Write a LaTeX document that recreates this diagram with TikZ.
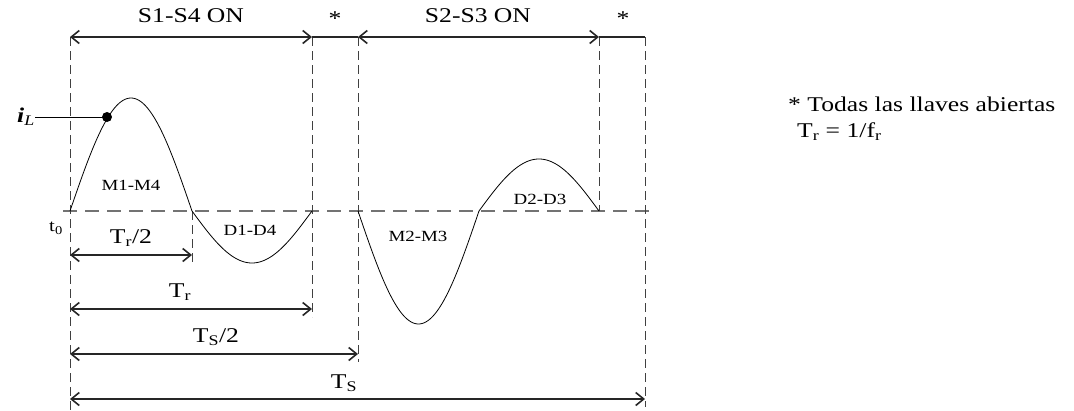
\documentclass[tikz,border=0pt]{standalone}
\usepackage{fontspec}
\setmainfont[FakeStretch=1.22]{Liberation Serif}
\usetikzlibrary{arrows.meta}
\begin{document}
\begin{tikzpicture}[x=1pt,y=-1pt,
  dimarrow/.style={line width=1.3pt,draw=black!85,
    {Straight Barb[length=8pt,width=13pt,line width=1.6pt]}-{Straight Barb[length=8pt,width=13pt,line width=1.6pt]}},
  plainline/.style={line width=1.3pt,draw=black!85},
  vdash/.style={line width=0.9pt,draw=black!75,dash pattern=on 9pt off 5pt},
  hdash/.style={line width=1.6pt,draw=black!55,dash pattern=on 14pt off 8pt},
  wave/.style={line width=0.8pt,draw=black},
  big/.style={font=\fontsize{21}{23}\selectfont,inner sep=0pt},
  small/.style={font=\fontsize{15.5}{17}\selectfont,inner sep=0pt}]
\useasboundingbox (0,0) rectangle (1074,410);
% top coordinates
\coordinate (a0) at (70,37);
\coordinate (a1) at (312,37);
\coordinate (a2) at (358,37);
\coordinate (a3) at (599,37);
\coordinate (a4) at (645,37);
% bottom ends of vertical dashed lines
\coordinate (b0) at (70,410);
\coordinate (b1) at (312,317);
\coordinate (b2) at (358,362);
\coordinate (b3) at (599,211);
\coordinate (b4) at (645,407);
\coordinate (h0) at (192,211);
\coordinate (h1) at (192,262);
% baseline
\coordinate (l0) at (63,211);
\coordinate (l1) at (652,211);
\draw[hdash] (l0) -- (l1);
% vertical dashed
\draw[vdash] (a0) -- (b0);
\draw[vdash] (a1) -- (b1);
\draw[vdash] (a2) -- (b2);
\draw[vdash] (a3) -- (b3);
\draw[vdash] (a4) -- (b4);
\draw[vdash] (h0) -- (h1);
% top dimension arrows
\draw[dimarrow] (a0) -- (a1);
\draw[plainline] (a1) -- (a2);
\draw[dimarrow] (a2) -- (a3);
\draw[plainline] (a3) -- (a4);
\node[big] (s14) at (191,16) {S1-S4 ON};
\node[big] (st1) at (335,19) {*};
\node[big] (s23) at (478,16) {S2-S3 ON};
\node[big] (st2) at (623,19) {*};
% bottom dimension arrows
\coordinate (d1s) at (70,255); \coordinate (d1e) at (192,255);
\coordinate (d2s) at (70,309); \coordinate (d2e) at (312,309);
\coordinate (d3s) at (70,354); \coordinate (d3e) at (358,354);
\coordinate (d4s) at (70,399); \coordinate (d4e) at (645,399);
\draw[dimarrow] (d1s) -- (d1e);
\draw[dimarrow] (d2s) -- (d2e);
\draw[dimarrow] (d3s) -- (d3e);
\draw[dimarrow] (d4s) -- (d4e);
\node[big] (tr2) at (131,238) {T\textsubscript{r}/2};
\node[big] (tr) at (180,292) {T\textsubscript{r}};
\node[big] (ts2) at (216,337) {T\textsubscript{S}/2};
\node[big] (ts) at (344,383) {T\textsubscript{S}};
% waveform
\draw[wave] plot[domain=70:192,samples=80] (\x,{211-113*sin((\x-70)/122*180)})
  -- plot[domain=192:312,samples=80] (\x,{211+52*sin((\x-192)/120*180)});
\draw[wave] plot[domain=358:479,samples=80] (\x,{211+113*sin((\x-358)/121*180)})
  -- plot[domain=479:599,samples=80] (\x,{211-52*sin((\x-479)/120*180)});
\node[small] (m14) at (131,185) {M1-M4};
\node[small] (d14) at (250,230) {D1-D4};
\node[small] (m23) at (418,236) {M2-M3};
\node[small] (d23) at (540,199) {D2-D3};
\node[small,font=\fontsize{17}{19}\selectfont] (t0) at (56,228) {t\textsubscript{0}};
% i_L marker
\fill (107,117) circle (5pt) coordinate (dot);
\node[big,anchor=east] (iL) at (35,117) {\textbf{\textit{i}}\textsubscript{\textit{L}}};
\draw[line width=0.8pt] (iL.east) -- (dot);
% legend
\node[big,anchor=west] (leg1) at (788,104) {* Todas las llaves abiertas};
\node[big,anchor=west] (leg2) at (797,132) {T\textsubscript{r} = 1/f\textsubscript{r}};
\end{tikzpicture}
\end{document}
